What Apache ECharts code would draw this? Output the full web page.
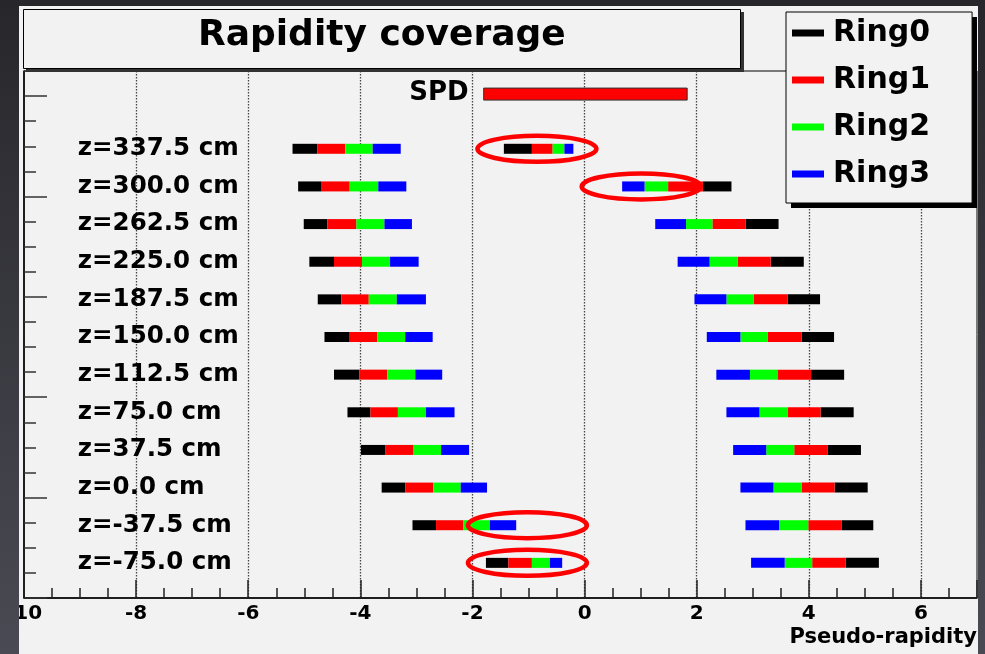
<!DOCTYPE html>
<html>
<head>
<meta charset="utf-8">
<title>Rapidity coverage</title>
<script src="https://cdn.jsdelivr.net/npm/echarts@6/dist/echarts.min.js"></script>
<style>
html, body { margin: 0; padding: 0; width: 985px; height: 654px; overflow: hidden; background: linear-gradient(#27272b, #4a4a54); }
#chart { position: absolute; left: 19px; top: 6px; width: 959px; height: 648px; }
</style>
</head>
<body>
<div id="chart"></div>
<script>
// vertex positions (cm), top row first
var rowZ = [337.5, 300.0, 262.5, 225.0, 187.5, 150.0, 112.5, 75.0, 37.5, 0.0, -37.5, -75.0];
var rowLabels = ['z=337.5 cm', 'z=300.0 cm', 'z=262.5 cm', 'z=225.0 cm', 'z=187.5 cm', 'z=150.0 cm',
    'z=112.5 cm', 'z=75.0 cm', 'z=37.5 cm', 'z=0.0 cm', 'z=-37.5 cm', 'z=-75.0 cm'];

// eta coverage per row : [lo, hi] of the first detector, [lo, hi] of the second
var ring0 = [
    [-5.21, -4.77, -1.44, -0.94], [-5.11, -4.69, 2.11, 2.62], [-5.01, -4.59, 2.87, 3.46],
    [-4.91, -4.47, 3.32, 3.91], [-4.76, -4.34, 3.62, 4.20], [-4.64, -4.19, 3.87, 4.45],
    [-4.47, -4.02, 4.04, 4.63], [-4.23, -3.82, 4.21, 4.80], [-3.99, -3.55, 4.34, 4.93],
    [-3.62, -3.20, 4.46, 5.05], [-3.07, -2.65, 4.59, 5.15], [-1.76, -1.36, 4.66, 5.25]
];
var ring1 = [
    [-4.77, -4.27, -0.94, -0.57], [-4.69, -4.19, 1.49, 2.11], [-4.59, -4.07, 2.28, 2.87],
    [-4.47, -3.97, 2.73, 3.32], [-4.34, -3.85, 3.02, 3.62], [-4.19, -3.70, 3.27, 3.87],
    [-4.02, -3.52, 3.44, 4.04], [-3.82, -3.33, 3.62, 4.21], [-3.55, -3.05, 3.74, 4.34],
    [-3.20, -2.70, 3.87, 4.46], [-2.65, -2.16, 3.99, 4.59], [-1.36, -0.94, 4.06, 4.66]
];
var ring2 = [
    [-4.27, -3.78, -0.57, -0.36], [-4.19, -3.68, 1.07, 1.49], [-4.07, -3.57, 1.81, 2.28],
    [-3.97, -3.47, 2.23, 2.73], [-3.85, -3.35, 2.53, 3.02], [-3.70, -3.20, 2.78, 3.27],
    [-3.52, -3.02, 2.95, 3.44], [-3.33, -2.83, 3.12, 3.62], [-3.05, -2.56, 3.24, 3.74],
    [-2.70, -2.21, 3.37, 3.87], [-2.16, -1.69, 3.47, 3.99], [-0.94, -0.62, 3.57, 4.06]
];
var ring3 = [
    [-3.78, -3.28, -0.36, -0.20], [-3.68, -3.18, 0.67, 1.07], [-3.57, -3.08, 1.26, 1.81],
    [-3.47, -2.96, 1.66, 2.23], [-3.35, -2.83, 1.96, 2.53], [-3.20, -2.71, 2.18, 2.78],
    [-3.02, -2.54, 2.35, 2.95], [-2.83, -2.32, 2.53, 3.12], [-2.56, -2.06, 2.65, 3.24],
    [-2.21, -1.74, 2.78, 3.37], [-1.69, -1.22, 2.87, 3.47], [-0.62, -0.40, 2.97, 3.57]
];
var ringNames = ['Ring0', 'Ring1', 'Ring2', 'Ring3'];
var ringColors = ['#000000', '#ff0000', '#00ff00', '#0000ff'];

// SPD coverage
var spdRange = [-1.80, 1.83];
var spdZ = 392;

// circled rows [eta centre, z]
var circled = [[-0.85, 337.5], [1.01, 300.0], [-1.02, -37.5], [-1.02, -75.0]];

var xTickLabels = [-10, -8, -6, -4, -2, 0, 2, 4, 6];

var Z_MIN = -110;      // bottom of the frame in cm, y axis counts from here
var LABEL_ETA = -9.04; // where the z labels start
var BAR_H = 10;
var FONT = '"DejaVu Sans", sans-serif';

function ringData(r) {
    var out = [];
    r.forEach(function (d, i) {
        out.push([d[0], d[1], rowZ[i] - Z_MIN]);
        out.push([d[2], d[3], rowZ[i] - Z_MIN]);
    });
    return out;
}

function renderBar(params, api) {
    var a = api.coord([api.value(0), api.value(2)]);
    var b = api.coord([api.value(1), api.value(2)]);
    return {
        type: 'rect',
        shape: {x: a[0], y: a[1] - BAR_H / 2, width: b[0] - a[0], height: BAR_H},
        style: {fill: api.visual('color')}
    };
}

var myChart = echarts.init(document.getElementById('chart'));

var series = [];
[ring0, ring1, ring2, ring3].forEach(function (r, k) {
    series.push({
        name: ringNames[k], type: 'custom', renderItem: renderBar,
        itemStyle: {color: ringColors[k]},
        encode: {x: [0, 1], y: 2}, data: ringData(r), z: 3, silent: true
    });
});

// SPD bar and its label
series.push({
    name: 'SPD', type: 'custom', encode: {x: [0, 1], y: 2}, z: 3, silent: true,
    data: [[spdRange[0], spdRange[1], spdZ - Z_MIN]],
    renderItem: function (params, api) {
        var a = api.coord([api.value(0), api.value(2)]);
        var b = api.coord([api.value(1), api.value(2)]);
        return {type: 'group', children: [
            {type: 'rect', shape: {x: a[0], y: a[1] - 6, width: b[0] - a[0], height: 12},
                style: {fill: '#ff0000', stroke: '#333', lineWidth: 1}},
            {type: 'text', x: a[0] - 15, y: a[1] - 1,
                style: {text: 'SPD', fill: '#000', font: 'bold 26px ' + FONT,
                    align: 'right', textAlign: 'right', verticalAlign: 'middle', textVerticalAlign: 'middle'}}
        ]};
    }
});

// z labels
series.push({
    name: 'labels', type: 'custom', encode: {x: 0, y: 1}, z: 3, silent: true,
    data: rowZ.map(function (z) { return [LABEL_ETA, z - Z_MIN]; }),
    renderItem: function (params, api) {
        var p = api.coord([api.value(0), api.value(1)]);
        return {type: 'text', x: p[0], y: p[1],
            style: {text: rowLabels[params.dataIndex], fill: '#000', font: 'bold 24.5px ' + FONT,
                align: 'left', textAlign: 'left', verticalAlign: 'middle', textVerticalAlign: 'middle'}};
    }
});

// red ellipses around the odd rows
series.push({
    name: 'circles', type: 'custom', encode: {x: 0, y: 1}, z: 5, silent: true,
    data: circled.map(function (c) { return [c[0], c[1] - Z_MIN]; }),
    renderItem: function (params, api) {
        var p = api.coord([api.value(0), api.value(1)]);
        return {type: 'ellipse', shape: {cx: p[0], cy: p[1], rx: 59.5, ry: 13},
            style: {fill: 'none', stroke: '#ff0000', lineWidth: 4.5}};
    }
});

var option = {
    backgroundColor: '#f2f2f2',
    animation: false,
    title: {
        text: 'Rapidity coverage', left: 4, top: 3, padding: [7, 175, 13, 175], z: 8,
        backgroundColor: '#f2f2f2', borderColor: '#000', borderWidth: 1,
        textStyle: {fontFamily: FONT, fontWeight: 'bold', fontSize: 36, lineHeight: 40, color: '#000'}
    },
    legend: {
        data: ringNames, orient: 'vertical', left: 767, top: 6, icon: 'rect', z: 8,
        itemWidth: 32, itemHeight: 7, itemGap: 11, padding: [3, 42, 11, 6], selectedMode: false,
        backgroundColor: '#f2f2f2', borderColor: '#000', borderWidth: 1,
        textStyle: {fontFamily: FONT, fontWeight: 'bold', fontSize: 30, lineHeight: 36, color: '#000', padding: [0, 0, 0, 4]}
    },
    grid: {left: 5, right: 1, top: 65, bottom: 56, show: true, borderColor: '#000', borderWidth: 1,
        backgroundColor: 'transparent', containLabel: false, outerBoundsMode: 'none'},
    xAxis: [{
        type: 'value', min: -10, max: 7, interval: 2, position: 'bottom',
        axisLine: {onZero: false, lineStyle: {color: '#000', width: 1.5}},
        axisTick: {inside: true, length: 18, lineStyle: {color: '#222', width: 1.5}},
        axisLabel: {margin: 6, color: '#000', fontFamily: FONT, fontWeight: 'bold', fontSize: 20,
            formatter: function (v) { return xTickLabels.indexOf(v) >= 0 ? String(v) : ''; }},
        splitLine: {show: true, showMinLine: false, showMaxLine: false, lineStyle: {color: '#444', type: [1.5, 1.5], width: 1.3}}
    }, {
        type: 'value', min: -10, max: 7, interval: 0.5, position: 'bottom',
        axisLine: {show: false, onZero: false},
        axisTick: {inside: true, length: 10, lineStyle: {color: '#222', width: 1.5}},
        axisLabel: {show: false}, splitLine: {show: false}
    }],
    yAxis: [{
        type: 'value', min: 0, max: 525, interval: 100, position: 'left',
        axisLine: {show: true, onZero: false, lineStyle: {color: '#000', width: 1.5}},
        axisTick: {show: true, inside: true, length: 23, lineStyle: {color: '#333', width: 1.5}},
        axisLabel: {show: false}, splitLine: {show: false}
    }, {
        type: 'value', min: 0, max: 525, interval: 25, position: 'left',
        axisLine: {show: false, onZero: false},
        axisTick: {show: true, inside: true, length: 12, lineStyle: {color: '#333', width: 1.5}},
        axisLabel: {show: false}, splitLine: {show: false}
    }],
    graphic: [
        // box shadows (ROOT style)
        {type: 'rect', left: 7, top: 6, z: 7, shape: {width: 718, height: 60}, style: {fill: '#333'}},
        {type: 'rect', left: 772, top: 11, z: 7, shape: {width: 186, height: 191}, style: {fill: '#000'}},
        {type: 'text', right: 1, top: 621, z: 10,
            style: {text: 'Pseudo-rapidity', fill: '#000', font: 'bold 21px ' + FONT}}
    ],
    series: series
};
myChart.setOption(option);

window.addEventListener('resize', function () {
    myChart.resize();
});
</script>
</body>
</html>
